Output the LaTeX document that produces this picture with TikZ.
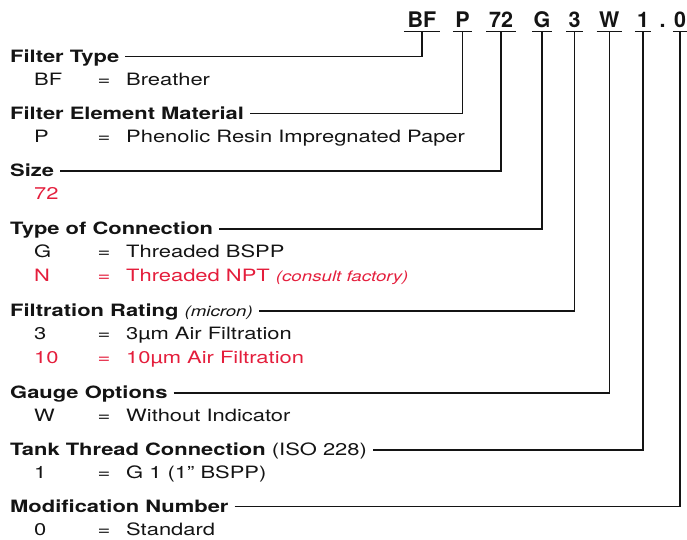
\documentclass[tikz,border=0pt]{standalone}
\usepackage{fontspec}
\setmainfont{TeX Gyre Heros}[FakeStretch=1.29]
\newfontfamily\codefont{TeX Gyre Heros}
\definecolor{accent}{RGB}{228,30,60}
\definecolor{ink}{RGB}{20,20,20}
\begin{document}
\begin{tikzpicture}[x=1pt,y=-1pt,
  every node/.style={inner sep=0pt, text=ink, font=\fontsize{17}{19}\selectfont},
  head/.style={anchor=west, text height=11pt, text depth=0pt, font=\fontsize{17}{19}\selectfont\bfseries},
  keyc/.style={anchor=base west},
  eqs/.style={anchor=base},
  desc/.style={anchor=base west},
  red/.style={text=accent},
  key/.style={anchor=base, text depth=3.7pt, minimum width=#1, font=\codefont\bfseries\fontsize{21.5}{24}\selectfont},
  uline/.style={draw=ink, line width=1.2pt},
  conn/.style={draw=ink, line width=1.2pt, shorten <=6pt}
]
\useasboundingbox (0,0) rectangle (687,539);

% code at top
\node[key=36pt] (kBF) at (422,27.3) {BF};
\node[key=19pt] (kP)  at (462.5,27.3) {P};
\node[key=29pt] (k72) at (501,27.3) {72};
\node[key=19pt] (kG)  at (542,27.3) {G};
\node[key=16pt] (k3)  at (574.5,27.3) {3};
\node[key=25pt] (kW)  at (609.2,27.3) {W};
\node[key=16pt] (k1)  at (643,27.3) {1};
\node[key=6pt]  (kdot) at (662.5,27.3) {.};
\node[key=14pt] (k0)  at (680,27.3) {0};
\foreach \k in {kBF,kP,k72,kG,k3,kW,k1,k0}
  \draw[uline] (\k.south west) -- (\k.south east);

% Filter Type
\node[head] (hFT) at (10,56.7) {Filter Type};
\node[keyc] (vFT1) at (34,85.2) {BF};
\node[eqs] (eFT1) at (104,85.2) {=};
\node[desc] (dFT1) at (126,85.2) {Breather};

% Filter Element Material
\node[head] (hFEM) at (10,113.7) {Filter Element Material};
\node[keyc] (vFEM1) at (34,142.2) {P};
\node[eqs] (eFEM1) at (104,142.2) {=};
\node[desc] (dFEM1) at (126,142.2) {Phenolic Resin Impregnated Paper};

% Size
\node[head] (hS) at (10,171) {Size};
\node[keyc,red] (vS1) at (34,199.5) {72};

% Type of Connection
\node[head] (hTC) at (10,229) {Type of Connection};
\node[keyc] (vTC1) at (34,257.5) {G};
\node[eqs] (eTC1) at (104,257.5) {=};
\node[desc] (dTC1) at (126,257.5) {Threaded BSPP};
\node[keyc,red] (vTC2) at (34,281.5) {N};
\node[eqs,red] (eTC2) at (104,281.5) {=};
\node[desc,red] (dTC2) at (126,281.5) {Threaded NPT {\itshape\fontsize{14.5}{16}\selectfont(consult factory)}};

% Filtration Rating
\node[head] (hFR) at (10,311) {Filtration Rating {\mdseries\itshape\fontsize{14.5}{16}\selectfont(micron)}};
\node[keyc] (vFR1) at (34,339.5) {3};
\node[eqs] (eFR1) at (104,339.5) {=};
\node[desc] (dFR1) at (126,339.5) {3µm Air Filtration};
\node[keyc,red] (vFR2) at (34,363.5) {10};
\node[eqs,red] (eFR2) at (104,363.5) {=};
\node[desc,red] (dFR2) at (126,363.5) {10µm Air Filtration};

% Gauge Options
\node[head] (hGO) at (10,393) {Gauge Options};
\node[keyc] (vGO1) at (34,421.5) {W};
\node[eqs] (eGO1) at (104,421.5) {=};
\node[desc] (dGO1) at (126,421.5) {Without Indicator};

% Tank Thread Connection
\node[head] (hTT) at (10,450) {Tank Thread Connection {\mdseries(ISO 228)}};
\node[keyc] (vTT1) at (34,478.5) {1};
\node[eqs] (eTT1) at (104,478.5) {=};
\node[desc] (dTT1) at (126,478.5) {G 1 (1” BSPP)};

% Modification Number
\node[head] (hMN) at (10,506.5) {Modification Number};
\node[keyc] (vMN1) at (34,535) {0};
\node[eqs] (eMN1) at (104,535) {=};
\node[desc] (dMN1) at (126,535) {Standard};

% connectors
\draw[conn] (hFT.east)  -- (kBF.south |- hFT.east)  -- (kBF.south);
\draw[conn] (hFEM.east) -- (kP.south |- hFEM.east)  -- (kP.south);
\draw[conn] (hS.east)   -- (k72.south |- hS.east)   -- (k72.south);
\draw[conn] (hTC.east)  -- (kG.south |- hTC.east)   -- (kG.south);
\draw[conn] (hFR.east)  -- (k3.south |- hFR.east)   -- (k3.south);
\draw[conn] (hGO.east)  -- (kW.south |- hGO.east)   -- (kW.south);
\draw[conn] (hTT.east)  -- (k1.south |- hTT.east)   -- (k1.south);
\draw[conn] (hMN.east)  -- (k0.south |- hMN.east)   -- (k0.south);
\end{tikzpicture}
\end{document}
